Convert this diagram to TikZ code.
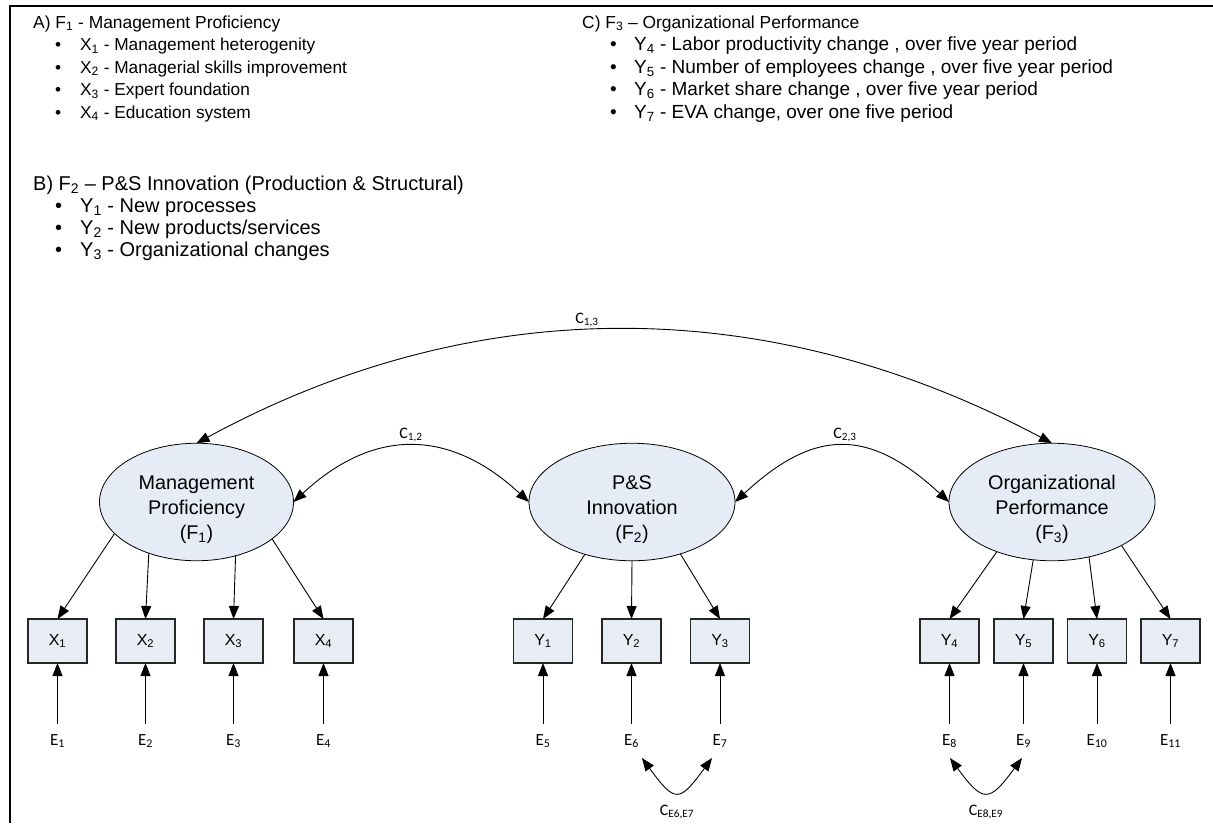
\documentclass[tikz,border=0pt]{standalone}
\usepackage{fontspec}
\setmainfont{Liberation Sans}
\newfontfamily\calfont{Carlito}
\usetikzlibrary{arrows.meta,shapes.geometric}
\definecolor{fillc}{HTML}{E6ECF6}
\definecolor{boxc}{HTML}{E8ECF4}
\begin{document}
\begin{tikzpicture}[x=1pt,y=-1pt,
 hdrA/.style={anchor=base west,inner sep=0pt,font=\fontsize{17.4}{20}\selectfont},
 itemA/.style={anchor=base west,inner sep=0pt,font=\fontsize{17.3}{20}\selectfont},
 hdrB/.style={anchor=base west,inner sep=0pt,font=\fontsize{20}{24}\selectfont},
 itemC/.style={anchor=base west,inner sep=0pt,font=\fontsize{19}{22}\selectfont},
 factor/.style={ellipse,draw=black,fill=fillc,minimum width=206pt,minimum height=92pt,inner sep=0pt,outer sep=0pt,align=center,font=\fontsize{19.8}{25}\selectfont,line width=0.8pt},
 ind/.style={rectangle,draw=black!85,fill=boxc,minimum width=59pt,minimum height=44pt,inner sep=0pt,outer sep=0pt,font=\fontsize{16}{18}\selectfont,line width=1.1pt},
 err/.style={inner sep=0pt,anchor=base,font=\calfont\fontsize{17}{18}\selectfont},
 cov/.style={inner sep=0pt,anchor=base,font=\calfont\fontsize{16}{18}\selectfont},
 arr/.style={-{Triangle[length=13pt,width=10pt]},line width=0.9pt},
 darr/.style={{Triangle[length=13pt,width=10pt]}-{Triangle[length=13pt,width=10pt]},line width=0.9pt}
]
\useasboundingbox (0,0) rectangle (1213,823);
\fill[white] (0,0) rectangle (1213,823);
\draw[line width=2.5pt] (10,823) -- (10,6) -- (1213,6);

% header lists
\node[hdrA] (hA) at (33,28) {A) F\textsubscript{1} - Management Proficiency};
\node[itemA] (hA1) at (55,50.5) {\makebox[25pt][l]{•}X\textsubscript{1} - Management heterogenity};
\node[itemA] (hA2) at (55,73) {\makebox[25pt][l]{•}X\textsubscript{2} - Managerial skills improvement};
\node[itemA] (hA3) at (55,95.5) {\makebox[25pt][l]{•}X\textsubscript{3} - Expert foundation};
\node[itemA] (hA4) at (55,118) {\makebox[25pt][l]{•}X\textsubscript{4} - Education system};

\node[hdrB] (hB) at (33,190) {B) F\textsubscript{2} – P\&S Innovation (Production \& Structural)};
\node[hdrB] (hB1) at (55,212) {\makebox[25pt][l]{•}Y\textsubscript{1} - New processes};
\node[hdrB] (hB2) at (55,234) {\makebox[25pt][l]{•}Y\textsubscript{2} - New products/services};
\node[hdrB] (hB3) at (55,256) {\makebox[25pt][l]{•}Y\textsubscript{3} - Organizational changes};

\node[hdrA] (hC) at (582,28) {C) F\textsubscript{3} – Organizational Performance};
\node[itemC] (hC1) at (610,50.5) {\makebox[24pt][l]{•}Y\textsubscript{4} - Labor productivity change , over five year period};
\node[itemC] (hC2) at (610,73) {\makebox[24pt][l]{•}Y\textsubscript{5} - Number of employees change , over five year period};
\node[itemC] (hC3) at (610,95.5) {\makebox[24pt][l]{•}Y\textsubscript{6} - Market share change , over five year period};
\node[itemC] (hC4) at (610,118) {\makebox[24pt][l]{•}Y\textsubscript{7} - EVA change, over one five period};

% factors
\node[factor,minimum width=194pt] (F1) at (196.5,502) {\rule{0pt}{29pt}Management\\Proficiency\\(F\textsubscript{1})};
\node[factor] (F2) at (632,502) {\rule{0pt}{29pt}P\&S\\Innovation\\(F\textsubscript{2})};
\node[factor] (F3) at (1052,502) {\rule{0pt}{29pt}Organizational\\Performance\\(F\textsubscript{3})};

% indicators
\node[ind] (X1) at (57.5,641) {X\textsubscript{1}};
\node[ind] (X2) at (145.5,641) {X\textsubscript{2}};
\node[ind] (X3) at (233.5,641) {X\textsubscript{3}};
\node[ind] (X4) at (323.5,641) {X\textsubscript{4}};
\node[ind] (Y1) at (543,641) {Y\textsubscript{1}};
\node[ind] (Y2) at (631.5,641) {Y\textsubscript{2}};
\node[ind] (Y3) at (720,641) {Y\textsubscript{3}};
\node[ind] (Y4) at (949.5,641) {Y\textsubscript{4}};
\node[ind] (Y5) at (1023.5,641) {Y\textsubscript{5}};
\node[ind] (Y6) at (1097,641) {Y\textsubscript{6}};
\node[ind] (Y7) at (1170.5,641) {Y\textsubscript{7}};

% errors
\node[err] (E1) at (57.5,745) {E\textsubscript{1}};
\node[err] (E2) at (145.5,745) {E\textsubscript{2}};
\node[err] (E3) at (233.5,745) {E\textsubscript{3}};
\node[err] (E4) at (323.5,745) {E\textsubscript{4}};
\node[err] (E5) at (543,745) {E\textsubscript{5}};
\node[err] (E6) at (631.5,745) {E\textsubscript{6}};
\node[err] (E7) at (720,745) {E\textsubscript{7}};
\node[err] (E8) at (949.5,745) {E\textsubscript{8}};
\node[err] (E9) at (1023.5,745) {E\textsubscript{9}};
\node[err] (E10) at (1097,745) {E\textsubscript{10}};
\node[err] (E11) at (1170.5,745) {E\textsubscript{11}};

% loadings
\draw[arr] (F1.201) -- (X1.north);
\draw[arr] (F1.227) -- (X2.north);
\draw[arr] (F1.306) -- (X3.north);
\draw[arr] (F1.334) -- (X4.north);
\draw[arr] (F2.228.5) -- (Y1.north);
\draw[arr] (F2.south) -- (Y2.north);
\draw[arr] (F2.313.5) -- (Y3.north);
\draw[arr] (F3.222) -- (Y4.north);
\draw[arr] (F3.252) -- (Y5.north);
\draw[arr] (F3.304) -- (Y6.north);
\draw[arr] (F3.328) -- (Y7.north);

% error arrows
\foreach \e/\b in {E1/X1,E2/X2,E3/X3,E4/X4,E5/Y1,E6/Y2,E7/Y3,E8/Y4,E9/Y5,E10/Y6,E11/Y7}
  \draw[arr] ([yshift=10pt]\e.north) -- (\b.south);

% covariances between factors
\draw[darr] (F1.north) .. controls (475,292) and (768,292) .. (F3.north);
\node[cov] (C13) at (587,323) {C\textsubscript{1,3}};
\draw[darr] (F1.east) .. controls (373,428) and (449,428) .. (F2.west);
\node[cov] (C12) at (411,438) {C\textsubscript{1,2}};
\draw[darr] (F2.east) .. controls (815,428) and (869,428) .. (F3.west);
\node[cov] (C23) at (845,438) {C\textsubscript{2,3}};

% error covariances
\coordinate (e6c) at (642,758);
\coordinate (e7c) at (712,758);
\coordinate (e8c) at (950,758);
\coordinate (e9c) at (1022,758);
\draw[darr] (e6c) .. controls (675,803) and (679,803) .. (e7c);
\draw[darr] (e8c) .. controls (983,803) and (989,803) .. (e9c);
\node[cov] (C67) at (677,815) {C\textsubscript{E6,E7}};
\node[cov] (C89) at (986,815) {C\textsubscript{E8,E9}};
\end{tikzpicture}
\end{document}
